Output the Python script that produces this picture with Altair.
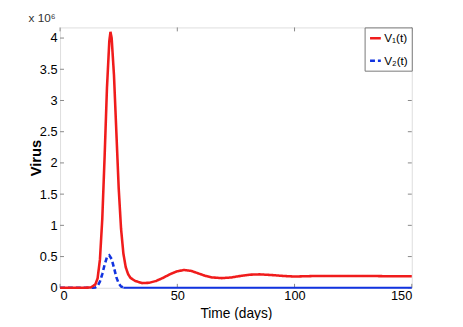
import altair as alt
import pandas as pd

# Values (virus counts in units of 10^6)
v1_days = [0, 10, 13, 15, 16, 17, 18, 19, 20, 21, 21.5, 22, 23, 24, 25, 26, 27, 28, 29, 30,
           32, 35, 38, 41, 44, 47, 50, 53, 56, 59, 62, 65, 69, 73, 77, 81, 85, 90, 95,
           100, 105, 110, 120, 130, 140, 150]
v1_vals = [0, 0, 0.005, 0.05, 0.15, 0.45, 1.1, 2.1, 3.2, 3.95, 4.1, 4.0, 3.4, 2.5, 1.6, 0.95,
           0.55, 0.33, 0.22, 0.16, 0.11, 0.075, 0.08, 0.11, 0.16, 0.22, 0.265, 0.285, 0.27,
           0.23, 0.19, 0.165, 0.155, 0.165, 0.19, 0.21, 0.215, 0.205, 0.19, 0.18, 0.185,
           0.19, 0.19, 0.19, 0.185, 0.185]
v2_days = [0, 14, 15, 16, 17, 18, 19, 20, 21, 22, 23, 24, 25, 26, 27, 28]
v2_vals = [0, 0, 0.005, 0.03, 0.1, 0.22, 0.37, 0.49, 0.52, 0.46, 0.32, 0.17, 0.07, 0.02,
           0.005, 0]
v2_tail_days = [27, 150]
v2_tail_vals = [0, 0]
series_names = ["V\u2081(t)", "V\u2082(t)"]
x_ticks = [0, 50, 100, 150]
y_ticks = [0, 0.5, 1, 1.5, 2, 2.5, 3, 3.5, 4]

df = pd.concat([
    pd.DataFrame({"day": v1_days, "virus": v1_vals, "series": series_names[0]}),
    pd.DataFrame({"day": v2_days, "virus": v2_vals, "series": series_names[1]}),
])
tail = pd.DataFrame({"day": v2_tail_days, "virus": v2_tail_vals})

FONT = "Liberation Sans Narrow, Liberation Sans, Arial"
W, H = 358, 265
RED, BLUE = "#f01c1c", "#1133e0"
xs = alt.Scale(domain=[0, 150], nice=False)
ys = alt.Scale(domain=[0, 4.17], nice=False)

xaxis = alt.Axis(values=x_ticks, title="Time  (days)", ticks=False, grid=False,
                 labelFontSize=13, titleFontSize=14, titleFontWeight="normal",
                 labelPadding=2, titlePadding=4, domain=False, labelOverlap=False)
yaxis = alt.Axis(values=y_ticks, format="~g", title="Virus", ticks=False, grid=False,
                 labelFontSize=13, titleFontSize=15, titleFontWeight="bold",
                 labelPadding=3, titlePadding=-4, domain=False, labelOverlap=False)

leg = dict(title=None, orient="top-right", offset=0, fillColor="white", strokeColor="#777777",
           padding=4, labelFontSize=12, symbolType="stroke", symbolSize=120,
           symbolStrokeWidth=2.5, rowPadding=10, labelFont=FONT, labelOffset=2)

base = alt.Chart(df).mark_line(strokeWidth=2.6).encode(
    x=alt.X("day:Q", scale=xs, axis=xaxis),
    y=alt.Y("virus:Q", scale=ys, axis=yaxis),
    color=alt.Color("series:N", scale=alt.Scale(domain=series_names, range=[RED, BLUE]),
                    legend=alt.Legend(**leg)),
    strokeDash=alt.StrokeDash("series:N", scale=alt.Scale(domain=series_names, range=[[1, 0], [5, 3]]),
                              legend=alt.Legend(**leg)),
)
v2_layer = base.transform_filter(alt.datum.series == series_names[1])
v1_layer = base.transform_filter(alt.datum.series == series_names[0])

tail_line = alt.Chart(tail).mark_line(strokeWidth=2.2, color=BLUE).encode(
    x=alt.X("day:Q", scale=xs, axis=xaxis), y=alt.Y("virus:Q", scale=ys, axis=yaxis)
)

xt = pd.DataFrame({"t": x_ticks})
yt = pd.DataFrame({"t": y_ticks})
tick_col = "#888888"
xb = alt.Chart(xt).mark_rule(color=tick_col).encode(x=alt.X("t:Q", scale=xs, axis=xaxis), y=alt.value(H), y2=alt.value(H - 4))
xtop = alt.Chart(xt).mark_rule(color=tick_col).encode(x=alt.X("t:Q", scale=xs, axis=xaxis), y=alt.value(0), y2=alt.value(4))
yl = alt.Chart(yt).mark_rule(color=tick_col).encode(y=alt.Y("t:Q", scale=ys, axis=yaxis), x=alt.value(0), x2=alt.value(4))
yr = alt.Chart(yt).mark_rule(color=tick_col).encode(y=alt.Y("t:Q", scale=ys, axis=yaxis), x=alt.value(W), x2=alt.value(W - 4))

chart = alt.layer(xb, xtop, yl, yr, tail_line, v2_layer, v1_layer).properties(
    width=W, height=H,
    title=alt.TitleParams(text="x 10\u2076", anchor="start", fontSize=12, fontWeight="normal",
                          font=FONT, offset=2, color="#333333"),
    autosize=alt.AutoSizeParams(type="none"),
    padding={"left": 53, "top": 17, "right": 44, "bottom": 30},
).configure_view(stroke="#777777", strokeWidth=1).configure_axis(
    labelFont=FONT, titleFont=FONT, labelColor="#222222", titleColor="#111111"
).configure(background="white")

chart.save("out.html", embed_options={"renderer": "svg", "actions": False})
